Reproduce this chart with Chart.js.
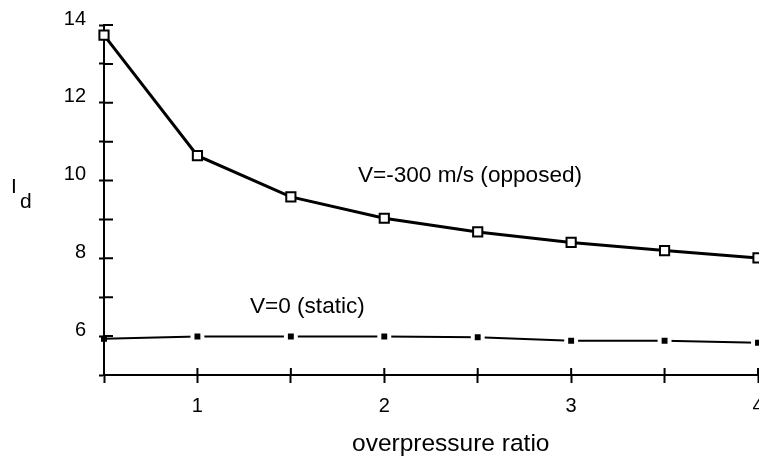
<!DOCTYPE html>
<html>
<head>
<meta charset="utf-8">
<script src="https://cdn.jsdelivr.net/npm/chart.js@4"></script>
<style>
  html, body { margin: 0; padding: 0; background: #fff; overflow: hidden; }
  #wrap { width: 759px; height: 460px; }
</style>
</head>
<body>
<div id="wrap"><canvas id="c" width="759" height="460"></canvas></div>
<script>
// ---- data ----
const overpressureRatio = [0.5, 1, 1.5, 2, 2.5, 3, 3.5, 4];
const opposedId = [13.74, 10.64, 9.58, 9.03, 8.68, 8.41, 8.20, 8.01];   // V=-300 m/s (opposed)
const staticId  = [5.93, 5.99, 5.99, 5.99, 5.97, 5.88, 5.88, 5.83];     // V=0 (static)
const xTickLabels = [1, 2, 3, 4];
const yTickLabels = [6, 8, 10, 12, 14];
const opposedLabel = 'V=-300 m/s (opposed)';
const staticLabel = 'V=0 (static)';
const xTitle = 'overpressure ratio';
const yTitleMain = 'I';
const yTitleSub = 'd';

const FONT = '"Liberation Sans", Arial, Helvetica, sans-serif';

// inner half of the crossing tick marks + annotation texts
const extrasPlugin = {
  id: 'extras',
  beforeDatasetsDraw(chart) {
    const ctx = chart.ctx;
    const xs = chart.scales.x, ys = chart.scales.y;
    const ax = xs.left, ay = ys.bottom;
    ctx.save();
    ctx.strokeStyle = '#000';
    ctx.lineWidth = 2;
    ctx.beginPath();
    ys.ticks.forEach(t => {
      const py = ys.getPixelForValue(t.value);
      ctx.moveTo(ax, py); ctx.lineTo(ax + 9, py);
    });
    xs.ticks.forEach(t => {
      const px = xs.getPixelForValue(t.value);
      ctx.moveTo(px, ay); ctx.lineTo(px, ay - 7);
    });
    ctx.stroke();
    ctx.restore();
  },
  afterDraw(chart) {
    const ctx = chart.ctx;
    const xs = chart.scales.x, ys = chart.scales.y;
    ctx.save();
    ctx.fillStyle = '#000';
    ctx.textBaseline = 'alphabetic';
    ctx.textAlign = 'left';
    ctx.font = '22.6px ' + FONT;
    ctx.fillText(opposedLabel, xs.getPixelForValue(1.859), ys.getPixelForValue(9.97));
    ctx.fillText(staticLabel, xs.getPixelForValue(1.281), ys.getPixelForValue(6.6));
    // x-axis title
    ctx.font = '24.5px ' + FONT;
    ctx.fillText(xTitle, 352, 451);
    // y-axis title I with subscript d
    ctx.font = '21px ' + FONT;
    ctx.fillText(yTitleMain, 11, 193);
    ctx.fillText(yTitleSub, 20, 208);
    ctx.restore();
  }
};

new Chart(document.getElementById('c'), {
  type: 'line',
  data: {
    datasets: [
      {
        label: opposedLabel,
        data: overpressureRatio.map((x, i) => ({ x, y: opposedId[i] })),
        borderColor: '#000',
        borderWidth: 3,
        pointStyle: 'rect',
        pointRadius: 6.5,
        pointBorderWidth: 2,
        pointBorderColor: '#000',
        pointBackgroundColor: '#fff',
        tension: 0,
        clip: false
      },
      {
        label: staticLabel,
        data: overpressureRatio.map((x, i) => ({ x, y: staticId[i] })),
        borderColor: '#000',
        borderWidth: 2,
        pointStyle: 'rect',
        pointRadius: ctx => ctx.dataIndex === 0 ? 4.2 : 7,
        pointBorderWidth: ctx => ctx.dataIndex === 0 ? 0 : 4,
        pointBorderColor: '#fff',
        pointBackgroundColor: '#000',
        tension: 0,
        clip: false
      }
    ]
  },
  options: {
    responsive: false,
    devicePixelRatio: 1,
    animation: false,
    layout: { autoPadding: false, padding: { left: 0, right: 1, top: 25, bottom: 0 } },
    plugins: { legend: { display: false }, tooltip: { enabled: false } },
    scales: {
      x: {
        type: 'linear',
        min: 0.5, max: 4,
        border: { display: true, color: '#000', width: 2 },
        grid: { display: true, drawOnChartArea: false, drawTicks: true, tickLength: 8, tickWidth: 2, tickColor: '#000' },
        ticks: {
          stepSize: 0.5,
          autoSkip: false,
          maxRotation: 0,
          padding: 11,
          color: '#000',
          font: { family: FONT, size: 20 },
          callback: v => xTickLabels.includes(v) ? String(v) : ''
        },
        afterFit(scale) { scale.paddingLeft = 0; scale.paddingRight = 0; scale.height = 85; }
      },
      y: {
        type: 'linear',
        min: 5, max: 14,
        border: { display: true, color: '#000', width: 2 },
        grid: { display: true, drawOnChartArea: false, drawTicks: true, tickLength: 5, tickWidth: 2, tickColor: '#000' },
        ticks: {
          stepSize: 1,
          autoSkip: false,
          padding: 13,
          labelOffset: -6,
          color: '#000',
          font: { family: FONT, size: 20 },
          callback: v => yTickLabels.includes(v) ? String(v) : ''
        },
        afterFit(scale) { scale.paddingTop = 0; scale.paddingBottom = 0; scale.width = 104; }
      }
    }
  },
  plugins: [extrasPlugin]
});
</script>
</body>
</html>
